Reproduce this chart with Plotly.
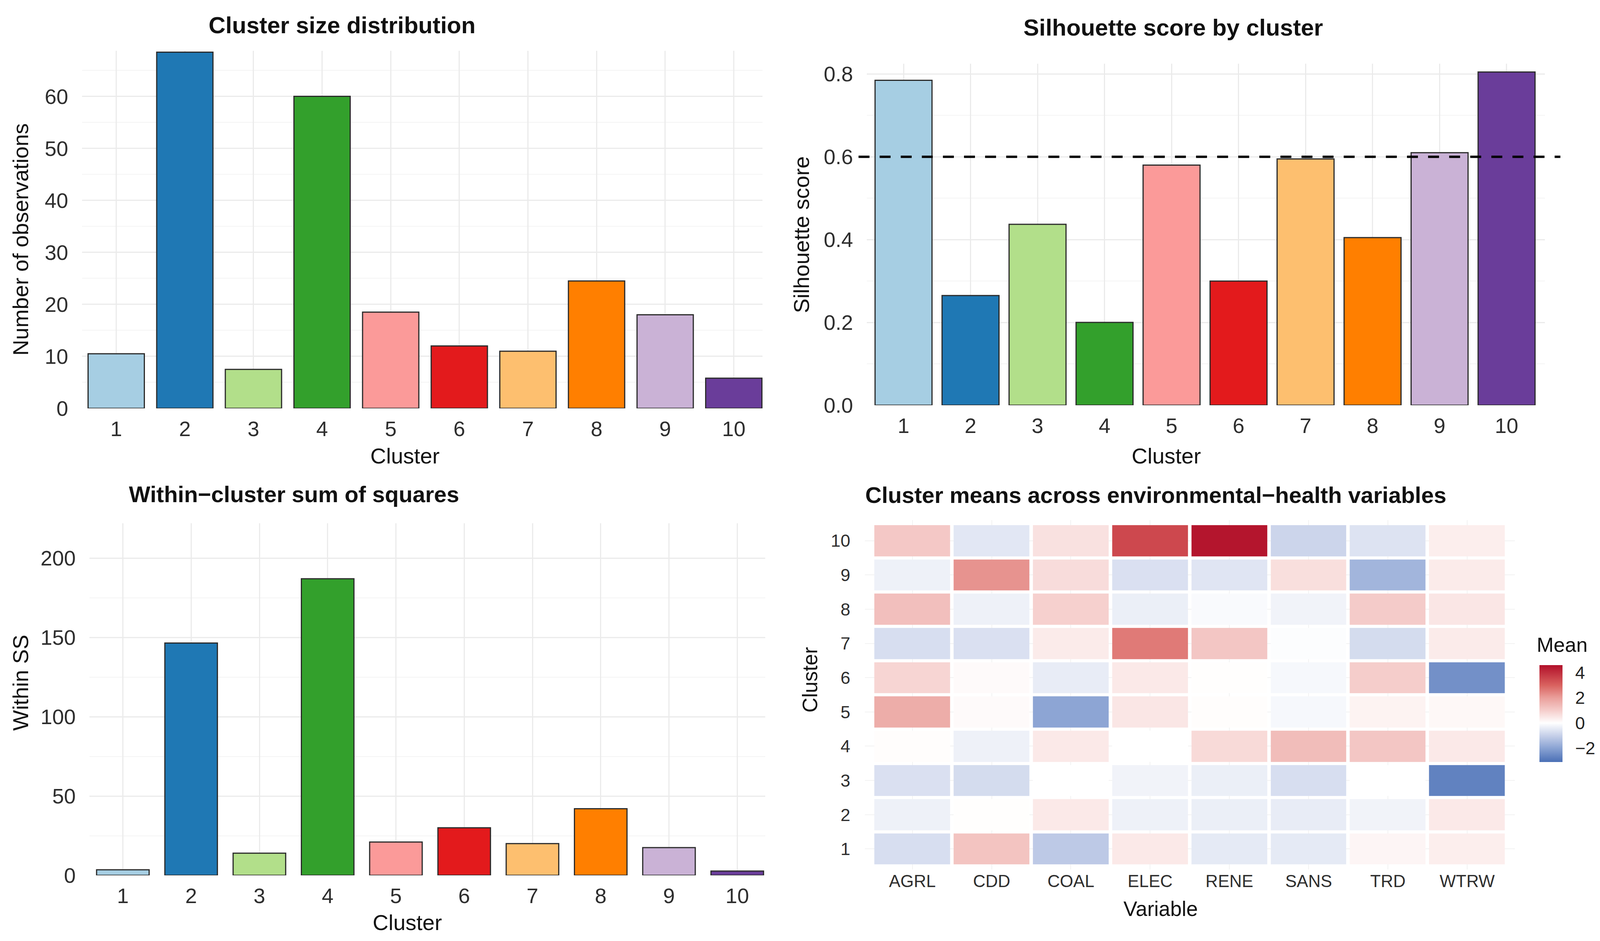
import plotly.graph_objs as go

# cluster ids and palette (RColorBrewer "Paired")
clusters = [1, 2, 3, 4, 5, 6, 7, 8, 9, 10]
cluster_colors = ['#A6CEE3', '#1F78B4', '#B2DF8A', '#33A02C', '#FB9A99',
                  '#E31A1C', '#FDBF6F', '#FF7F00', '#CAB2D6', '#6A3D9A']

# panel values
cluster_size = [10.5, 68.5, 7.5, 60, 18.5, 12, 11, 24.5, 18, 5.8]
silhouette = [0.785, 0.265, 0.437, 0.2, 0.58, 0.3, 0.595, 0.405, 0.61, 0.805]
silhouette_cut = 0.6
within_ss = [3.5, 146.5, 14, 187, 21, 30, 20, 42, 17.5, 2.7]

# cluster means (clusters 1..10) per variable
variables = ['AGRL', 'CDD', 'COAL', 'ELEC', 'RENE', 'SANS', 'TRD', 'WTRW']
agrl = [-0.7, -0.3, -0.65, 0.05, 1.7, 0.85, -0.7, 1.3, -0.3, 1.1]
cdd = [1.2, 0.03, -0.75, -0.3, 0.1, 0.1, -0.65, -0.3, 2.2, -0.5]
coal = [-1.15, 0.45, 0.0, 0.45, -1.95, -0.4, 0.4, 0.95, 0.7, 0.6]
elec = [0.45, -0.3, -0.25, 0.0, 0.5, 0.45, 2.6, -0.35, -0.65, 3.5]
rene = [-0.45, -0.35, -0.35, 0.75, 0.05, 0.03, 1.15, -0.1, -0.55, 4.5]
sans = [-0.45, -0.4, -0.7, 1.35, -0.15, -0.15, -0.05, -0.25, 0.65, -0.9]
trd = [0.2, -0.25, 0.0, 1.15, 0.25, 1.0, -0.75, 1.05, -1.6, -0.6]
wtrw = [0.35, 0.45, -2.7, 0.45, 0.15, -2.4, 0.4, 0.5, 0.4, 0.35]
mean_min, mean_max = -3.1, 4.6
mean_ticks = [-2, 0, 2, 4]

# reference canvas, used only to turn measured pixel spots into paper fractions
W, H = 4259, 2408
FONT = 'Liberation Sans, Arial, sans-serif'
TICK = '#2e2e2e'
GRID = '#ebebeb'
MINOR = '#f4f4f4'


def px(x):
    return x / W


def py(y):
    return 1 - y / H


def bar_trace(values, width, xa, ya):
    return go.Bar(
        x=clusters, y=values, width=width,
        marker=dict(color=cluster_colors, line=dict(color='#2b2b2b', width=3)),
        xaxis=xa, yaxis=ya, showlegend=False
    )


z = [list(r) for r in zip(agrl, cdd, coal, elec, rene, sans, trd, wtrw)]

colorscale = [
    [0.0, '#4a6fb5'],
    [0.143, '#8aa3d3'],
    [0.273, '#c6d0e9'],
    [0.4026, '#ffffff'],
    [0.5325, '#f5cdcb'],
    [0.6623, '#ea9f9b'],
    [0.7922, '#d9625f'],
    [1.0, '#b2102a'],
]

heat = go.Heatmap(
    x=variables, y=clusters, z=z,
    zmin=mean_min, zmax=mean_max, colorscale=colorscale,
    xgap=9, ygap=8, xaxis='x4', yaxis='y4',
    colorbar=dict(
        x=px(4087), xanchor='left', y=py(1950), yanchor='bottom', ypad=0,
        len=248 / H, lenmode='fraction', thickness=59, outlinewidth=0,
        tickvals=mean_ticks, ticks='outside', ticklen=24, tickcolor='rgba(0,0,0,0)',
        tickfont=dict(size=45, color='#222222', family=FONT)
    )
)

datap = [
    bar_trace(cluster_size, 0.82, 'x', 'y'),
    bar_trace(silhouette, 0.85, 'x2', 'y2'),
    bar_trace(within_ss, 0.77, 'x3', 'y3'),
    heat,
]


def xcat(domain, rng, anchor):
    return dict(
        domain=domain, range=rng, anchor=anchor, tickvals=clusters,
        showgrid=True, gridcolor=GRID, gridwidth=2.5, zeroline=False, showline=False,
        ticks='', ticklabelstandoff=16, tickfont=dict(size=54, color=TICK)
    )


def yval(domain, rng, anchor, dtick, fmt=None):
    d = dict(
        domain=domain, range=rng, anchor=anchor, dtick=dtick, tick0=0,
        showgrid=True, gridcolor=GRID, gridwidth=2.5, zeroline=False, showline=False,
        minor=dict(dtick=dtick / 2, tick0=0, showgrid=True, gridcolor=MINOR, gridwidth=2),
        ticks='', ticklabelstandoff=34, tickfont=dict(size=54, color=TICK)
    )
    if fmt:
        d['tickformat'] = fmt
    return d


def note(text, x, y, size, bold=False, angle=0, anchor='center'):
    f = dict(size=size, color='#111111', family=FONT)
    if bold:
        f['weight'] = 'bold'
    return dict(text=text, x=px(x), y=py(y), xref='paper', yref='paper',
                xanchor=anchor, yanchor='middle', showarrow=False,
                textangle=angle, font=f)


layout = go.Layout(
    autosize=True,
    margin=dict(l=0, r=0, t=0, b=0, autoexpand=False),
    paper_bgcolor='white', plot_bgcolor='white',
    font=dict(family=FONT, color='#111111'),
    xaxis=xcat([px(218), px(2030)], [0.5, 10.42], 'y'),
    yaxis=yval([py(1045), py(129.5)], [0, 68.8], 'x', 10),
    xaxis2=xcat([px(2307), px(4112)], [0.45, 10.57], 'y2'),
    yaxis2=yval([py(1037), py(163)], [0, 0.825], 'x2', 0.2, fmt='.1f'),
    xaxis3=xcat([px(238), px(2037)], [0.51, 10.41], 'y3'),
    yaxis3=yval([py(2240), py(1339)], [0, 222], 'x3', 50),
    xaxis4=dict(
        domain=[px(2302), px(4032)], range=[-0.6, 7.6], anchor='y4', type='category',
        showgrid=True, gridcolor='#f2f2f2', gridwidth=2, zeroline=False, showline=False,
        ticks='', ticklabelstandoff=0, tickfont=dict(size=44, color=TICK)
    ),
    yaxis4=dict(
        domain=[py(2225), py(1331)], range=[0.4, 10.6], anchor='x4', tickvals=clusters,
        showgrid=True, gridcolor='#f2f2f2', gridwidth=2, zeroline=False, showline=False,
        ticks='', ticklabelstandoff=36, tickfont=dict(size=45, color=TICK)
    ),
    shapes=[dict(type='line', xref='x2 domain', yref='y2', x0=-0.012, x1=1.023,
                 y0=silhouette_cut, y1=silhouette_cut,
                 line=dict(color='black', width=6, dash='28px,26px'))],
    annotations=[
        # panel titles
        note('Cluster size distribution', 910, 65, 60, bold=True),
        note('Silhouette score by cluster', 3123, 70, 60, bold=True),
        note('Within\u2212cluster sum of squares', 783, 1264, 58, bold=True),
        note('Cluster means across environmental\u2212health variables', 3077, 1266, 58, bold=True),
        # axis titles
        note('Cluster', 1078, 1167, 56),
        note('Number of observations', 55, 612, 56, angle=-90),
        note('Cluster', 3104, 1166, 56),
        note('Silhouette score', 2134, 600, 56, angle=-90),
        note('Cluster', 1084, 2360, 56),
        note('Within SS', 54, 1747, 56, angle=-90),
        note('Variable', 3090, 2325, 53),
        note('Cluster', 2155, 1740, 53, angle=-90),
        # colour bar title
        note('Mean', 4088, 1650, 52, anchor='left'),
    ],
)

# fill the browser window exactly, no page margin or scrollbars
fit_js = """
document.documentElement.style.margin = '0';
document.body.style.margin = '0';
document.body.style.overflow = 'hidden';
var gd = document.getElementById('{plot_id}');
gd.style.width = '100vw';
gd.style.height = '100vh';
Plotly.Plots.resize(gd);
"""

fig = go.Figure(data=datap, layout=layout)
fig.write_html('out.html', default_width='100vw', default_height='100vh',
               config={'responsive': True, 'displayModeBar': False}, post_script=fit_js)
